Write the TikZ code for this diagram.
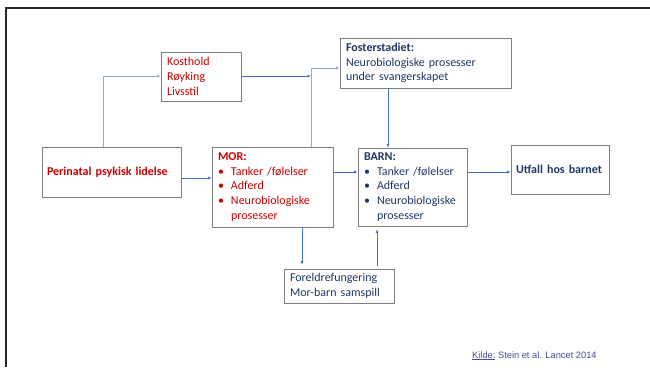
\documentclass[tikz,border=0pt]{standalone}
\usepackage{fontspec}
\setmainfont{Carlito}
\newfontfamily\kildefont{Liberation Sans}
\usetikzlibrary{arrows.meta,calc}
\definecolor{morred}{HTML}{C80000}
\definecolor{barnblue}{HTML}{1F3864}
\definecolor{linkblue}{HTML}{4472C4}
\definecolor{paleblue}{HTML}{8FAADC}
\definecolor{boxgray}{HTML}{7F7F7F}
\definecolor{kildeblue}{HTML}{4A4A9C}
\newcommand{\bitem}[1]{\makebox[13pt][l]{\textbullet}#1}
\newcommand{\bcont}[1]{\hspace*{13pt}#1}
\begin{document}
\begin{tikzpicture}[x=1pt,y=-1pt,
  box/.style={draw=boxgray,line width=0.6pt,align=left,inner xsep=6pt,inner ysep=1pt,
    font=\fontsize{12pt}{14.8pt}\selectfont},
  conn/.style={draw=linkblue,line width=0.7pt,-{Latex[length=3.5pt,width=3pt]}},
  paleconn/.style={conn,draw=paleblue}]
\useasboundingbox (0,0) rectangle (650,367);
\draw[line width=2pt,black!85] (6,367) -- (6,7.5) -- (650,7.5);
\node[box,minimum width=139pt,minimum height=50pt,text width=129pt,inner xsep=5pt,text=morred,font=\fontsize{12pt}{14.8pt}\selectfont\bfseries] (peri) at (111.5,172) {Perinatal psykisk lidelse};
\node[box,minimum width=80pt,minimum height=49pt,text width=68pt,text=morred] (kost) at (201,76.5) {Kosthold\\Røyking\\Livsstil};
\node[box,minimum width=171pt,minimum height=50pt,text width=159pt,text=barnblue] (foster) at (425.5,63) {\textbf{Fosterstadiet:}\\Neurobiologiske prosesser\\under svangerskapet};
\node[box,minimum width=121pt,minimum height=80pt,text width=109pt,text=morred] (mor) at (272.5,187) {\textbf{MOR:}\\\bitem{Tanker /følelser}\\\bitem{Adferd}\\\bitem{Neurobiologiske}\\\bcont{prosesser}};
\node[box,minimum width=109pt,minimum height=78pt,text width=97pt,text=barnblue] (barn) at (412.5,187) {\textbf{BARN:}\\\bitem{Tanker /følelser}\\\bitem{Adferd}\\\bitem{Neurobiologiske}\\\bcont{prosesser}};
\node[box,minimum width=98pt,minimum height=49pt,text width=88pt,inner xsep=5pt,text=barnblue,font=\fontsize{12pt}{14.8pt}\selectfont\bfseries] (utfall) at (560,169.5) {Utfall hos barnet};
\node[box,minimum width=110pt,minimum height=34pt,text width=98pt,text=barnblue] (foreldre) at (339,286) {Foreldrefungering\\Mor-barn samspill};
\coordinate (pk) at (103,76);
\coordinate (jn) at (311,68);
\coordinate (fb) at (388,0);
\coordinate (mf) at (302,0);
\coordinate (fr) at (377,0);
\draw[paleconn] (peri.north -| pk) -- (pk) -- (kost.west |- pk);
\draw[conn] (kost.east |- pk) -- (jn |- pk);
\draw[paleconn] (mor.north -| jn) -- (jn) -- (foster.west |- jn);
\draw[conn] (foster.south -| fb) -- (barn.north -| fb);
\draw[conn] (peri.east |- 0,178) -- (mor.west |- 0,178);
\draw[conn] (mor.east |- 0,172) -- (barn.west |- 0,172);
\draw[conn] (barn.east |- 0,172) -- (utfall.west |- 0,172);
\draw[conn] (mor.south -| mf) -- ($(foreldre.north -| mf)+(0,-4)$);
\draw[conn] ($(foreldre.north -| fr)+(0,-3)$) -- ($(barn.south -| fr)+(0,3)$);
\node[anchor=base west,inner sep=0pt,text=kildeblue,font=\kildefont\fontsize{9.3pt}{11pt}\selectfont] (kilde) at (472,358) {\underline{Kilde:} Stein et al. Lancet 2014};
\end{tikzpicture}
\end{document}
